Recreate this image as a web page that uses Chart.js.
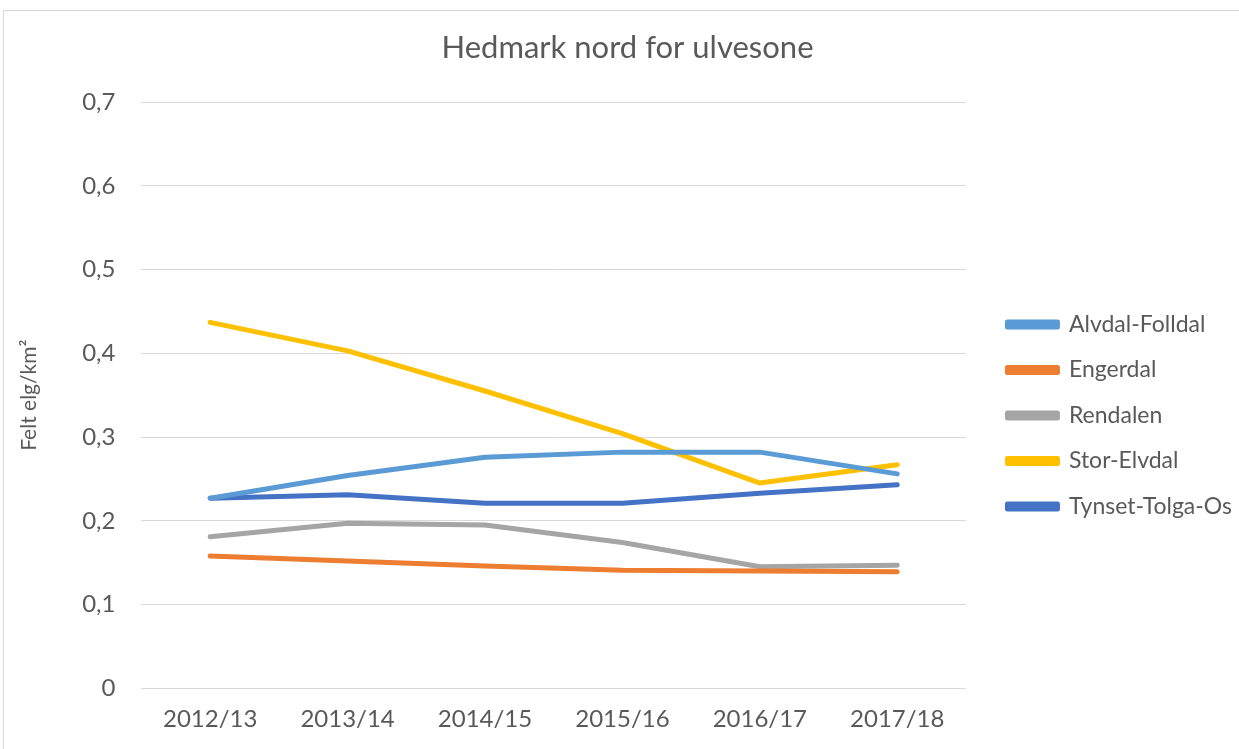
<!DOCTYPE html>
<html>
<head>
<meta charset="utf-8">
<script src="https://cdn.jsdelivr.net/npm/chart.js@4.4.1/dist/chart.umd.min.js"></script>
<style>
  body { margin: 0; background: #fff; }
  #wrap { position: absolute; left: 3px; top: 10px; width: 1240px; height: 745px; border: 1px solid #d9d9d9; box-sizing: border-box; }
</style>
</head>
<body>
<div id="wrap"><canvas id="chart"></canvas></div>
<script>
const seasons = ['2012/13', '2013/14', '2014/15', '2015/16', '2016/17', '2017/18'];
const alvdalFolldal = [0.227, 0.254, 0.276, 0.282, 0.282, 0.256];
const engerdal = [0.158, 0.152, 0.146, 0.141, 0.140, 0.139];
const rendalen = [0.181, 0.197, 0.195, 0.174, 0.145, 0.147];
const storElvdal = [0.437, 0.403, 0.355, 0.304, 0.245, 0.267];
const tynsetTolgaOs = [0.227, 0.231, 0.221, 0.221, 0.233, 0.243];

const textColor = '#595959';
const fontName = 'Lato, "Open Sans", sans-serif';

function line(label, data, color){
    return {
        label: label,
        data: data,
        borderColor: color,
        backgroundColor: color,
        borderWidth: 5,
        borderCapStyle: 'round',
        borderJoinStyle: 'round',
        pointRadius: 0,
        tension: 0
    };
}

const ctx = document.getElementById('chart').getContext('2d');
const myChart = new Chart(ctx, {
    type: 'line',
    data: {
        labels: seasons,
        datasets: [
            line('Alvdal-Folldal', alvdalFolldal, '#5b9bd5'),
            line('Engerdal', engerdal, '#ed7d31'),
            line('Rendalen', rendalen, '#a5a5a5'),
            line('Stor-Elvdal', storElvdal, '#ffc000'),
            line('Tynset-Tolga-Os', tynsetTolgaOs, '#4472c4')
        ]
    },
    options: {
        responsive: true,
        maintainAspectRatio: false,
        animation: false,
        layout: { padding: { top: 18, left: 9, right: 0, bottom: 11 } },
        plugins: {
            title: {
                display: true,
                text: 'Hedmark nord for ulvesone',
                color: textColor,
                font: { family: fontName, size: 31, weight: 'normal' },
                padding: { top: 0, bottom: 36 }
            },
            legend: {
                position: 'right',
                maxWidth: 400,
                title: { display: true, text: ' ', font: { size: 10 }, padding: { top: 23, bottom: 24 } },
                labels: {
                    color: textColor,
                    font: { family: fontName, size: 23 },
                    boxWidth: 50,
                    boxHeight: 5,
                    padding: 22.5
                }
            },
            tooltip: { enabled: false }
        },
        scales: {
            x: {
                offset: true,
                grid: { display: false },
                border: { color: '#d9d9d9', width: 1 },
                ticks: { color: textColor, font: { family: fontName, size: 24 }, padding: 9 }
            },
            y: {
                min: 0,
                max: 0.7,
                grid: { color: '#d9d9d9', lineWidth: 1, drawTicks: false },
                border: { display: false },
                title: {
                    display: true,
                    text: 'Felt elg/km²',
                    color: textColor,
                    font: { family: fontName, size: 21 },
                    padding: { bottom: 14 }
                },
                ticks: {
                    stepSize: 0.1,
                    color: textColor,
                    font: { family: fontName, size: 24 },
                    padding: 26,
                    callback: function(v){ return v === 0 ? '0' : v.toFixed(1).replace('.', ','); }
                }
            },
            gap: {
                position: 'right',
                min: 0,
                max: 1,
                grid: { display: false },
                border: { display: false },
                ticks: { display: false },
                afterFit: function(scale){ scale.width = 19; }
            }
        }
    }
});
</script>
</body>
</html>
